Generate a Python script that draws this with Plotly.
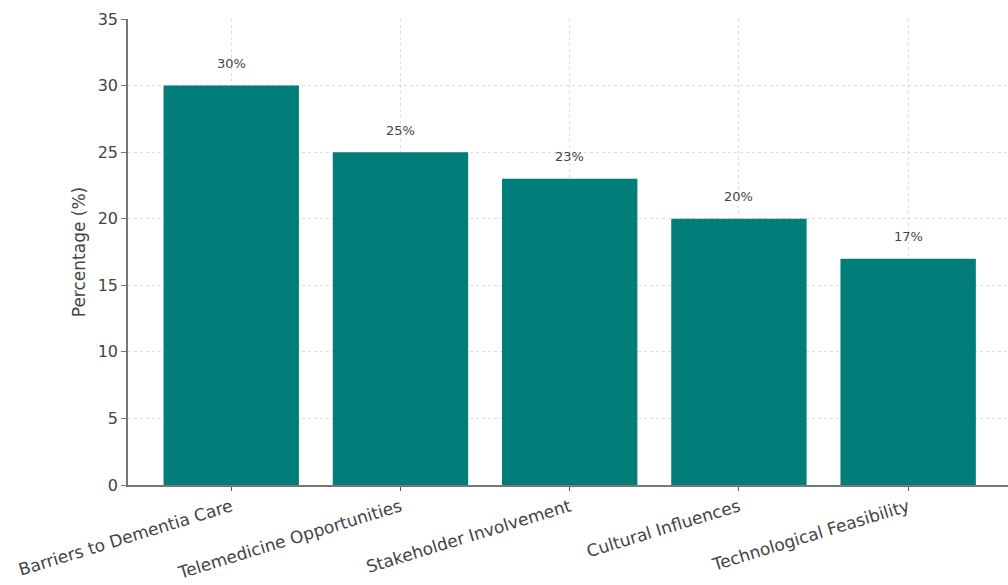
import plotly.graph_objects as go

categories = ["Barriers to Dementia Care", "Telemedicine Opportunities",
              "Stakeholder Involvement", "Cultural Influences",
              "Technological Feasibility"]
values = [30, 25, 23, 20, 17]
value_labels = ["30%", "25%", "23%", "20%", "17%"]
y_ticks = [0, 5, 10, 15, 20, 25, 30, 35]

font_family = "DejaVu Sans, Verdana, sans-serif"

fig = go.Figure()
fig.add_trace(go.Bar(
    x=list(range(len(categories))),
    y=values,
    width=0.8,
    marker=dict(color="#017d7a", line=dict(width=0)),
    hoverinfo="skip",
))

for i, (v, lab) in enumerate(zip(values, value_labels)):
    fig.add_annotation(x=i, y=v, text=lab, showarrow=False, yshift=22,
                       font=dict(family=font_family, size=13, color="#444444"))

fig.update_layout(
    width=1008, height=585,
    margin=dict(l=128, r=0, t=19, b=100),
    paper_bgcolor="white", plot_bgcolor="white",
    showlegend=False,
    font=dict(family=font_family, color="#444444"),
)
fig.update_xaxes(
    range=[-0.61, 4.59],
    tickmode="array",
    tickvals=list(range(len(categories))),
    ticktext=categories,
    tickangle=-17,
    tickfont=dict(size=17, color="#444444"),
    showgrid=True, gridcolor="rgba(200,200,200,0.6)", griddash="dot", gridwidth=1,
    showline=True, linecolor="#777777", linewidth=1.5,
    ticks="outside", ticklen=4, tickcolor="#555555",
    layer="above traces",
    zeroline=False,
)
fig.update_yaxes(
    range=[0, 35],
    tickmode="array",
    tickvals=y_ticks,
    tickfont=dict(size=16, color="#444444"),
    title=dict(text="Percentage (%)", font=dict(size=17, color="#444444"), standoff=8),
    showgrid=True, gridcolor="rgba(200,200,200,0.6)", griddash="dot", gridwidth=1,
    showline=True, linecolor="#777777", linewidth=1.5,
    ticks="outside", ticklen=5, tickcolor="#777777",
    layer="above traces",
    zeroline=False,
)

fig.write_html("out.html")
